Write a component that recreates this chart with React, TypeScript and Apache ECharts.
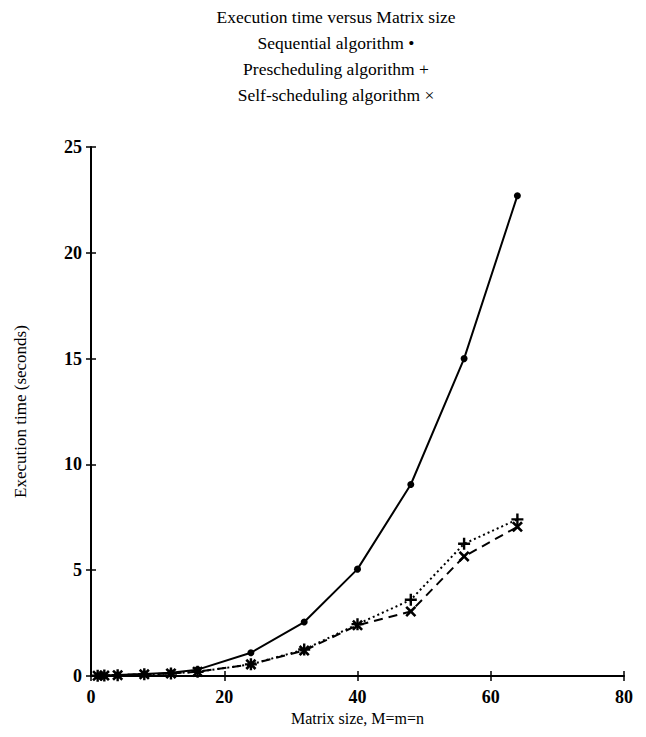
import React, { useEffect, useRef } from "react";
import * as echarts from "echarts";

const titleLines = [
  "Execution time versus Matrix size",
  "Sequential algorithm \u2022",
  "Prescheduling algorithm +",
  "Self-scheduling algorithm \u00d7",
];
const matrixSizes = [1, 2, 4, 8, 12, 16, 24, 32, 40, 48, 56, 64];
const sequential = [0.01, 0.02, 0.05, 0.1, 0.15, 0.3, 1.1, 2.55, 5.05, 9.05, 15.0, 22.7];
const prescheduling = [0.01, 0.02, 0.04, 0.08, 0.12, 0.2, 0.55, 1.25, 2.45, 3.6, 6.25, 7.4];
const selfScheduling = [0.01, 0.02, 0.04, 0.08, 0.12, 0.2, 0.55, 1.2, 2.4, 3.05, 5.65, 7.05];
const xTicks = [0, 20, 40, 60, 80];
const yTicks = [0, 5, 10, 15, 20, 25];

const FONT = "'Liberation Serif', 'DejaVu Serif', serif";
const PLUS = "path://M4,0 H6 V4 H10 V6 H6 V10 H4 V6 H0 V4 H4 Z";

export default function App() {
  const ref = useRef<HTMLDivElement>(null);
  useEffect(() => {
    if (!ref.current) return;
    document.body.style.margin = "0";
    const chart = echarts.init(ref.current, null, { renderer: "svg" });
    const pair = (ys: number[]) => matrixSizes.map((x, i) => [x, ys[i]]);
    const axisBase = {
      axisLine: { show: true, lineStyle: { color: "#000", width: 2 } },
      splitLine: { show: false },
    };
    chart.setOption({
      animation: false,
      backgroundColor: "#fff",
      title: {
        text: titleLines.join("\n"),
        left: 331,
        textAlign: "center",
        top: -1,
        textStyle: {
          fontFamily: FONT,
          fontSize: 17.5,
          fontWeight: "normal",
          color: "#000",
          lineHeight: 26,
        },
      },
      grid: { left: 91, right: 22, top: 147, bottom: 61, containLabel: false },
      xAxis: [
        {
          ...axisBase,
          type: "value",
          min: 0,
          max: 80,
          interval: 20,
          name: "Matrix size, M=m=n",
          nameLocation: "middle",
          nameGap: 34,
          nameTextStyle: { fontFamily: FONT, fontSize: 16, color: "#000" },
          axisTick: { show: true, length: 5, lineStyle: { color: "#000", width: 1.5 } },
          axisLabel: {
            fontFamily: FONT,
            fontSize: 18,
            fontWeight: "bold",
            color: "#000",
            margin: 12,
            formatter: (v: number) => (xTicks.includes(v) ? String(v) : ""),
          },
        },
        {
          type: "value",
          position: "bottom",
          min: 0,
          max: 80,
          interval: 20,
          axisLine: { show: false },
          splitLine: { show: false },
          axisLabel: { show: false },
          axisTick: { show: true, inside: true, length: 5, lineStyle: { color: "#000", width: 1.5 } },
        },
      ],
      yAxis: [
        {
          ...axisBase,
          type: "value",
          min: 0,
          max: 25,
          interval: 5,
          name: "Execution time (seconds)",
          nameLocation: "middle",
          nameGap: 62,
          nameTextStyle: { fontFamily: FONT, fontSize: 17, color: "#000" },
          axisTick: { show: true, length: 5, lineStyle: { color: "#000", width: 1.5 } },
          axisLabel: {
            fontFamily: FONT,
            fontSize: 18,
            fontWeight: "bold",
            color: "#000",
            margin: 9,
            formatter: (v: number) => (yTicks.includes(v) ? String(v) : ""),
          },
        },
        {
          type: "value",
          position: "left",
          min: 0,
          max: 25,
          interval: 5,
          axisLine: { show: false },
          splitLine: { show: false },
          axisLabel: { show: false },
          axisTick: { show: true, inside: true, length: 5, lineStyle: { color: "#000", width: 1.5 } },
        },
      ],
      series: [
        {
          name: "Sequential algorithm",
          type: "line",
          data: pair(sequential),
          symbol: "circle",
          symbolSize: 7,
          itemStyle: { color: "#000" },
          lineStyle: { color: "#000", width: 2, type: "solid" },
          z: 3,
        },
        {
          name: "Prescheduling algorithm",
          type: "line",
          data: pair(prescheduling),
          symbol: PLUS,
          symbolSize: 12,
          itemStyle: { color: "#000" },
          lineStyle: { color: "#000", width: 2, type: [2, 3] },
          z: 2,
        },
        {
          name: "Self-scheduling algorithm",
          type: "line",
          data: pair(selfScheduling),
          symbol: PLUS,
          symbolSize: 13,
          symbolRotate: 45,
          itemStyle: { color: "#000" },
          lineStyle: { color: "#000", width: 2, type: [9, 6] },
          z: 2,
        },
      ],
    });
    return () => chart.dispose();
  }, []);
  return <div ref={ref} style={{ width: 646, height: 737 }} />;
}
